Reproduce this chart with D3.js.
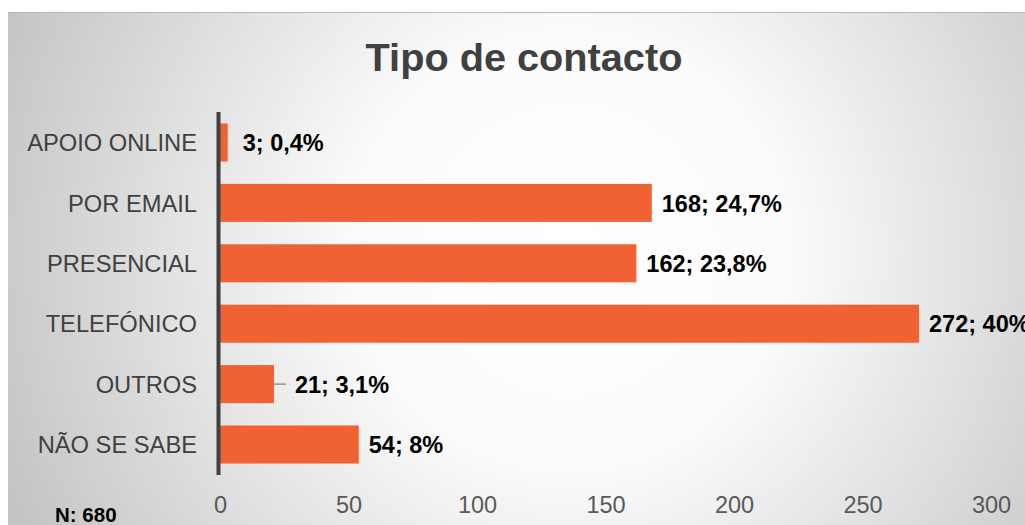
<!DOCTYPE html>
<html>
<head>
<meta charset="utf-8">
<script src="https://cdn.jsdelivr.net/npm/d3@7"></script>
<style>
  html, body { margin: 0; padding: 0; background: #fff; }
  svg { display: block; font-family: "Liberation Sans", Arial, sans-serif; }
</style>
</head>
<body>
<div id="chart"></div>
<script>
const categories = ["APOIO ONLINE", "POR EMAIL", "PRESENCIAL", "TELEFÓNICO", "OUTROS", "NÃO SE SABE"];
const counts = [3, 168, 162, 272, 21, 54];
const percents = ["0,4%", "24,7%", "23,8%", "40%", "3,1%", "8%"];
const xTicks = [0, 50, 100, 150, 200, 250, 300];
const title = "Tipo de contacto";
const note = "N: 680";

const W = 1025, H = 525;
const margin = { top: 112, left: 220, right: W - 991, bottom: H - 475 };

const svg = d3.select("#chart").append("svg")
    .attr("width", W)
    .attr("height", H);

const defs = svg.append("defs");
const grad = defs.append("radialGradient")
    .attr("id", "bg")
    .attr("gradientUnits", "userSpaceOnUse")
    .attr("cx", 570).attr("cy", 250).attr("r", 620);
grad.append("stop").attr("offset", "0%").attr("stop-color", "#ffffff");
grad.append("stop").attr("offset", "35%").attr("stop-color", "#fbfbfb");
grad.append("stop").attr("offset", "100%").attr("stop-color", "#c3c3c3");

// chart area background
svg.append("rect")
    .attr("x", 8).attr("y", 12)
    .attr("width", W - 8).attr("height", H - 12)
    .attr("fill", "url(#bg)");
svg.append("line")
    .attr("x1", 8).attr("x2", W)
    .attr("y1", 12.5).attr("y2", 12.5)
    .attr("stroke", "#b8b8b8").attr("stroke-width", 1);

const x = d3.scaleLinear()
    .domain([0, 300])
    .range([margin.left, W - margin.right]);

const y = d3.scaleBand()
    .domain(categories)
    .range([margin.top, H - margin.bottom])
    .paddingInner(0.37)
    .paddingOuter(0.19);

// title
svg.append("text")
    .attr("x", 524).attr("y", 71)
    .attr("text-anchor", "middle")
    .style("font-size", "39.7px")
    .style("font-weight", "bold")
    .style("fill", "#404040")
    .text(title);

// bars
svg.selectAll("rect.bar")
    .data(categories)
    .join("rect")
    .attr("class", "bar")
    .attr("x", x(0))
    .attr("y", d => y(d))
    .attr("width", (d, i) => x(counts[i]) - x(0))
    .attr("height", y.bandwidth())
    .attr("fill", "#f06234");

// category labels
svg.selectAll("text.cat")
    .data(categories)
    .join("text")
    .attr("class", "cat")
    .attr("x", 197)
    .attr("y", d => y(d) + y.bandwidth() / 2)
    .attr("dy", "0.37em")
    .attr("text-anchor", "end")
    .style("font-size", "23.7px")
    .style("fill", "#404040")
    .text(d => d);

// value axis (labels only)
const xAxis = svg.append("g")
    .attr("transform", `translate(0,${H - margin.bottom})`)
    .call(d3.axisBottom(x).tickValues(xTicks).tickSize(0).tickPadding(21).tickFormat(d3.format("d")));
xAxis.select(".domain").remove();
xAxis.selectAll("text")
    .style("font-size", "23.5px")
    .style("fill", "#595959")
    .style("font-family", "Liberation Sans, Arial, sans-serif");

// category axis line
svg.append("line")
    .attr("x1", x(0) - 1.5).attr("x2", x(0) - 1.5)
    .attr("y1", margin.top).attr("y2", H - margin.bottom)
    .attr("stroke", "#404040").attr("stroke-width", 4);

// data labels (small bars get a little more room, the 21 bar has a leader line)
const hasLeader = i => counts[i] > 10 && counts[i] < 30;
const labelOffset = i => hasLeader(i) ? 21 : (counts[i] < 10 ? 15 : 10);

svg.selectAll("line.leader")
    .data(categories.filter((d, i) => hasLeader(i)))
    .join("line")
    .attr("class", "leader")
    .attr("x1", d => x(counts[categories.indexOf(d)]))
    .attr("x2", d => x(counts[categories.indexOf(d)]) + 12)
    .attr("y1", d => y(d) + y.bandwidth() / 2)
    .attr("y2", d => y(d) + y.bandwidth() / 2)
    .attr("stroke", "#7f7f7f").attr("stroke-width", 1.2);

svg.selectAll("text.val")
    .data(categories)
    .join("text")
    .attr("class", "val")
    .attr("x", (d, i) => x(counts[i]) + labelOffset(i))
    .attr("y", d => y(d) + y.bandwidth() / 2)
    .attr("dy", "0.37em")
    .style("font-size", "23.5px")
    .style("font-weight", "bold")
    .style("fill", "#000")
    .text((d, i) => `${counts[i]}; ${percents[i]}`);

// note
svg.append("text")
    .attr("x", 55).attr("y", 522)
    .style("font-size", "20.5px")
    .style("font-weight", "bold")
    .style("fill", "#000")
    .text(note);
</script>
</body>
</html>
